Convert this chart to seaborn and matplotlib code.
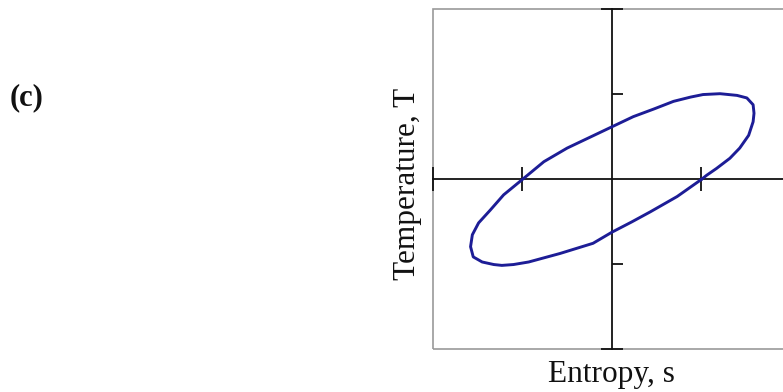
import matplotlib
matplotlib.use("Agg")
import matplotlib.pyplot as plt
import matplotlib.patches as mpatches
import pandas as pd
import seaborn as sns

# Closed T-s loop, traced counter-clockwise from the right crossing of the s-axis
entropy_s = [1.00, 1.06, 1.17, 1.32, 1.43, 1.53, 1.58, 1.59, 1.58, 1.51,
             1.40, 1.21, 1.02, 0.88, 0.69, 0.47, 0.24, 0.00, -0.24, -0.50,
             -0.76, -0.99, -1.21, -1.36, -1.49, -1.56, -1.58, -1.55, -1.45, -1.32,
             -1.23, -1.10, -0.93, -0.58, -0.21, 0.00, 0.22, 0.43, 0.73, 1.00]
temperature_T = [-0.01, 0.04, 0.12, 0.24, 0.36, 0.51, 0.67, 0.77, 0.87, 0.95,
                 0.98, 1.00, 0.99, 0.96, 0.91, 0.82, 0.73, 0.61, 0.49, 0.36,
                 0.20, 0.00, -0.19, -0.37, -0.52, -0.66, -0.80, -0.92, -0.98, -1.01,
                 -1.02, -1.01, -0.98, -0.88, -0.76, -0.63, -0.51, -0.39, -0.21, -0.01]

axis_limits = [-2, 2]
s_ticks = [-2, -1, 1, 2]
T_ticks = [-1, 1]
T_end_caps = [-2, 2]

panel_label = "(c)"
x_label = "Entropy, s"
y_label = "Temperature, T"

sns.set_style("white")
plt.rcParams["font.family"] = ["Liberation Serif", "DejaVu Serif"]
plt.rcParams["lines.solid_joinstyle"] = "round"
plt.rcParams["lines.solid_capstyle"] = "round"

fig = plt.figure(figsize=(7.83, 3.92), dpi=100)
ax = fig.add_axes([0.5530, 0.1105, 0.4568, 0.8673])

loop = pd.DataFrame({"s": entropy_s, "T": temperature_T})
sns.lineplot(data=loop, x="s", y="T", sort=False, estimator=None,
             color="#1d1d96", linewidth=2.1, ax=ax, zorder=5)

ax.set_xlim(axis_limits)
ax.set_ylim(axis_limits)

# Axes crossing through the origin
axis_color = "#111111"
axis_width = 1.3
for side in ("top", "right"):
    ax.spines[side].set_visible(False)
ax.spines["left"].set_position(("data", 0))
ax.spines["bottom"].set_position(("data", 0))
for side in ("left", "bottom"):
    ax.spines[side].set_color(axis_color)
    ax.spines[side].set_linewidth(axis_width)
    ax.spines[side].set_zorder(3)

ax.set_xticks(s_ticks)
ax.set_xticklabels([])
ax.tick_params(axis="x", which="major", bottom=True, top=False,
               direction="inout", length=17, width=axis_width, color=axis_color)
ax.set_yticks(T_ticks)
ax.set_yticklabels([])
ax.tick_params(axis="y", which="major", left=True, right=False,
               direction="in", length=8, width=axis_width, color=axis_color)
ax.set_yticks(T_end_caps, minor=True)
ax.tick_params(axis="y", which="minor", left=True, right=False,
               direction="inout", length=16, width=axis_width, color=axis_color)
ax.tick_params(axis="x", which="minor", bottom=False, top=False)

# Gray frame around the plotting region, kept beneath the axis caps
frame = mpatches.Rectangle((0, 0), 1, 1, transform=ax.transAxes, fill=False,
                           edgecolor="#9a9a9a", linewidth=1.2, clip_on=False,
                           zorder=0.5)
ax.add_patch(frame)

ax.set_xlabel(x_label, fontsize=22.5, color=axis_color)
ax.xaxis.label.set_va("baseline")
ax.xaxis.set_label_coords(0.5, -0.097)
ax.set_ylabel(y_label, fontsize=22.5, color=axis_color)
ax.yaxis.label.set_va("center")
ax.yaxis.set_label_coords(-0.070, 0.486)

fig.text(10 / 783, (392 - 105) / 392, panel_label, fontsize=22,
         fontweight="bold", ha="left", va="baseline", color=axis_color)

fig.savefig("out.png", dpi=100)
